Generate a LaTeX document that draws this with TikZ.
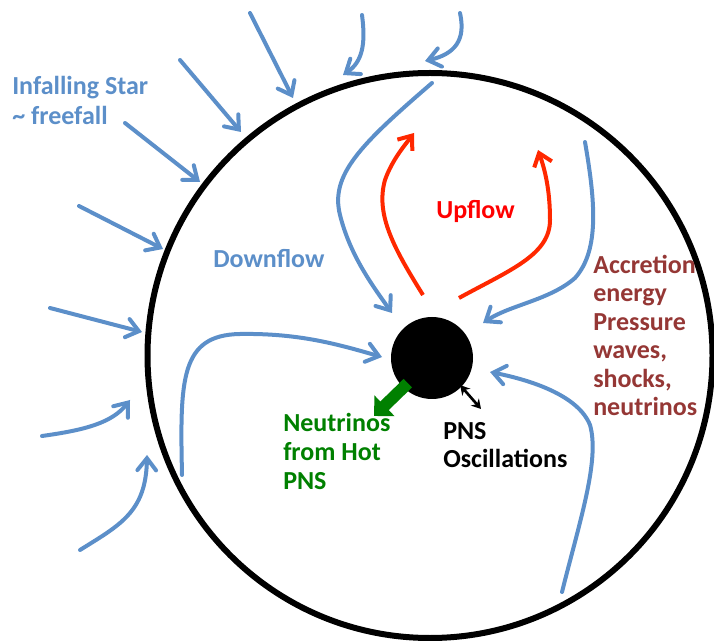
\documentclass[tikz,border=0pt]{standalone}
\usepackage{fontspec}
\setmainfont{Carlito}
\usetikzlibrary{arrows.meta,calc}

\definecolor{flowblue}{RGB}{92,143,201}
\definecolor{uparrow}{RGB}{255,40,0}
\definecolor{uptext}{RGB}{255,0,0}
\definecolor{accred}{RGB}{149,55,53}
\definecolor{nugreen}{RGB}{0,128,0}

\tikzset{
  flow/.style={draw=flowblue, line width=3pt, line cap=round, -{Straight Barb[length=9pt,width=14pt,line cap=round]}},
  upflow/.style={draw=uparrow, line width=3pt, -{Straight Barb[length=9pt,width=14pt]}},
  lbl/.style={anchor=base west, inner sep=0.75pt, align=left, font=\bfseries\fontsize{19.5}{21.4}\selectfont},
}

\begin{document}
\begin{tikzpicture}[x=0.75pt,y=0.75pt,yscale=-1,xscale=1]
			\useasboundingbox (0,0) rectangle (714,641);
			
			%Shape: Circle [shock]
			\draw  [line width=4.5pt]  (430,355.5) circle [x radius=282.5, y radius=282.5] ;
			%Shape: Circle [PNS]
			\node [circle, fill=black, inner sep=0pt, minimum size=61.5pt] (pns) at (432,358) {} ;
			
			%Straight Lines [infall]
			\draw [flow]  (250,13) -- (293,98) ;
			\draw [flow]  (180,60) -- (241,132) ;
			\draw [flow]  (125,123) -- (200,182) ;
			\draw [flow]  (79,206) -- (163,249) ;
			\draw [flow]  (50,308) -- (142,332) ;
			%Curve Lines [infall]
			\draw [flow]  (42,436) .. controls (85,430) and (112,423) .. (130,400) ;
			\draw [flow]  (80,550) .. controls (120,525) and (146,512) .. (147,455) ;
			\draw [flow]  (362,15) .. controls (366,45) and (362,62) .. (343,75) ;
			\draw [flow]  (460,13) .. controls (466,40) and (455,54) .. (425,61) ;
			
			%Curve Lines [downflow]
			\draw [flow]  (432,83) .. controls (360,145) and (330,175) .. (340,215) .. controls (350,255) and (372,285) .. (392,313) ;
			\draw [flow]  (585,142) .. controls (595,200) and (600,250) .. (575,278) .. controls (550,300) and (510,305) .. (483,323) ;
			\draw [flow]  (182,475) .. controls (180,380) and (180,335) .. (240,334) .. controls (300,333) and (340,345) .. (382,357) ;
			\draw [flow]  (562,592) .. controls (580,520) and (600,460) .. (590,425) .. controls (578,395) and (530,380) .. (490,372) ;
			
			%Curve Lines [upflow]
			\draw [upflow]  (423,295) .. controls (395,250) and (375,215) .. (385,180) .. controls (392,160) and (405,145) .. (414,133) ;
			\draw [upflow]  (459,298) .. controls (510,270) and (550,255) .. (550,220) .. controls (550,190) and (545,170) .. (538,150) ;
			
			%Neutrinos and oscillation
			\coordinate (nutip) at (374,416) ;
			\coordinate (osctip) at (481,409) ;
			\draw [nugreen, line width=9pt, -{Triangle[length=11pt,width=21pt]}]  ($(pns.south west)+(5,-4)$) -- (nutip) ;
			\draw [line width=2pt, {Stealth[length=7pt,width=8pt]}-{Stealth[length=7pt,width=8pt]}]  ($(pns.south east)+(-1,-2)$) -- (osctip) ;
			
			
			\draw (11,125) node [lbl, text=flowblue] (infall) {Infalling Star\\[1.8pt]\textasciitilde{} freefall};
			
			\draw (212,268) node [lbl, text=flowblue] (down) {Downflow};
			
			\draw (435,219) node [lbl, text=uptext] (up) {Upflow};
			
			\draw (592,416) node [lbl, text=accred] (accr) {Accretion\\energy\\Pressure\\waves,\\shocks,\\neutrinos};
			
			\draw (282,489) node [lbl, text=nugreen] (nu) {Neutrinos\\from Hot\\PNS};
			
			\draw (442,468) node [lbl, text=black] (osc) {PNS\\Oscillations};
			
			
		\end{tikzpicture}
\end{document}
